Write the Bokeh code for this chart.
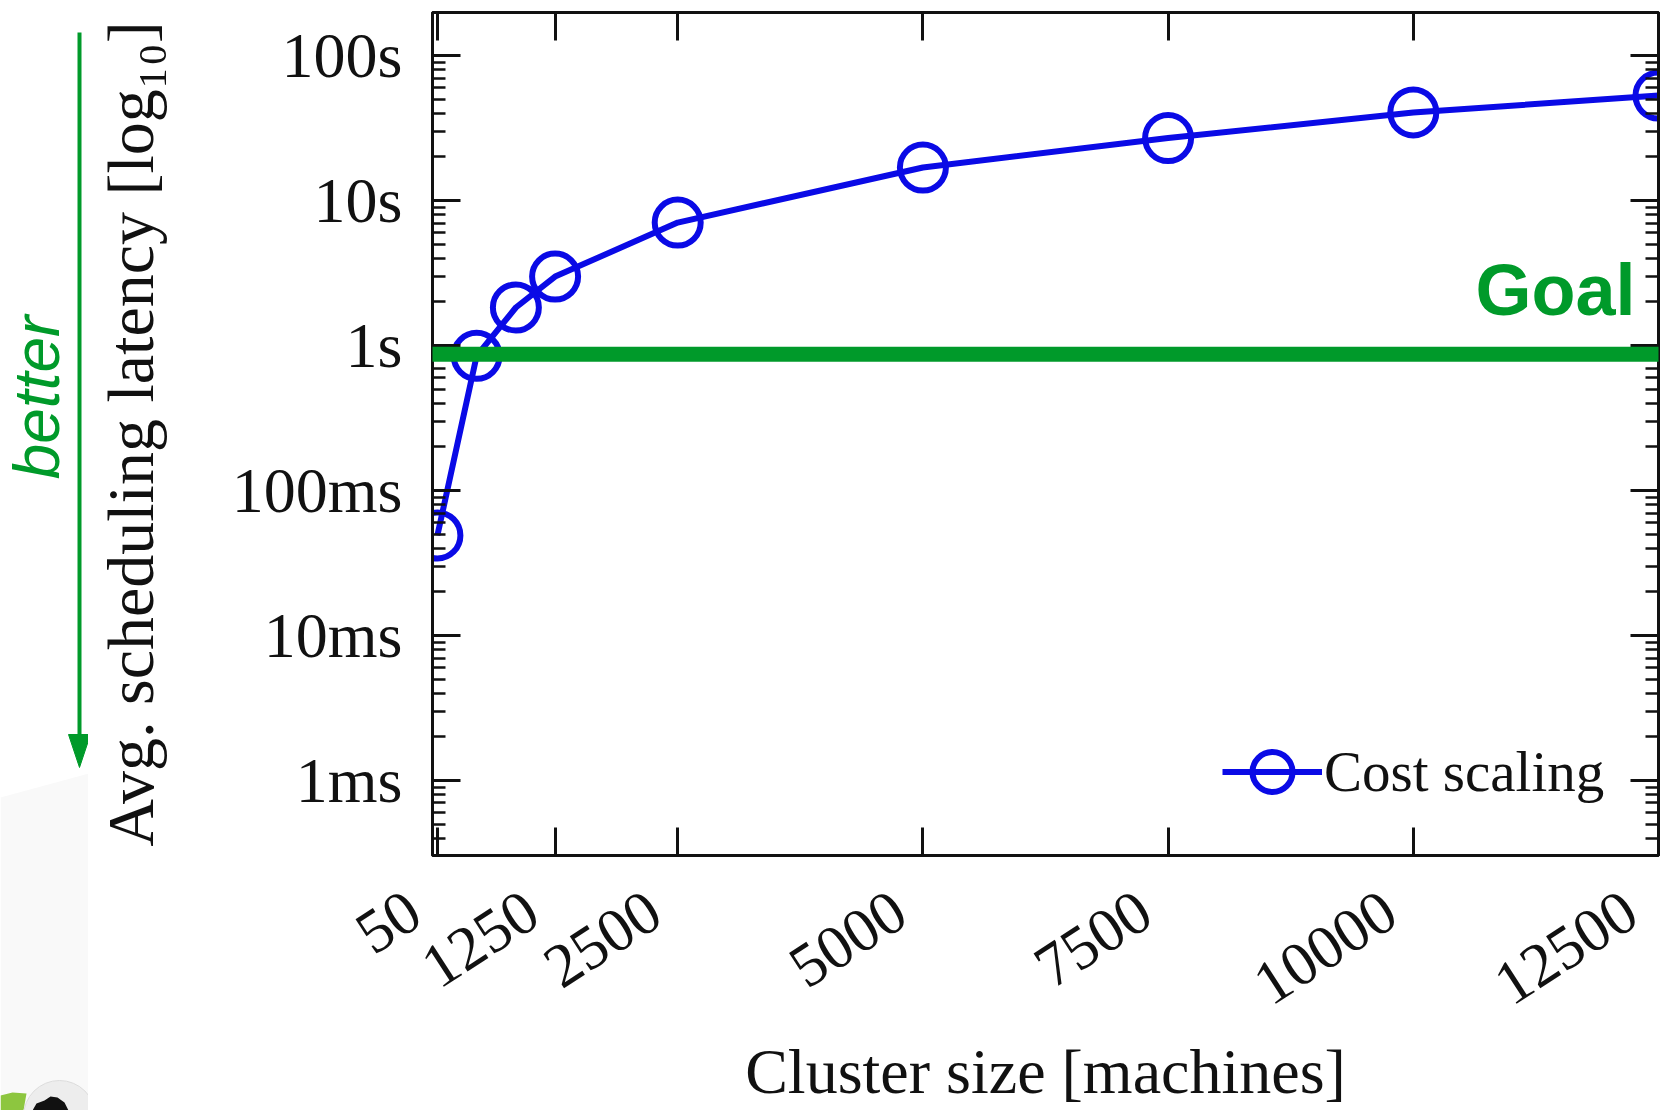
import math
from bokeh.plotting import figure
from bokeh.layouts import row
from bokeh.models import (LinearAxis, LogAxis, FixedTicker, Range1d, LinearScale, BoxAnnotation,
                          Label, Legend, LegendItem, CustomJSTickFormatter)
from bokeh.core.properties import value
from bokeh.embed import file_html
from bokeh.resources import INLINE

# ---------------- data ----------------
cluster_sizes = [50, 450, 850, 1250, 2500, 5000, 7500, 10000, 12500]
latency_s = [0.049, 0.85, 1.83, 2.99, 7.05, 16.9, 27.0, 40.5, 53.0]
series_name = "Cost scaling"
x_ticks = [50, 1250, 2500, 5000, 7500, 10000, 12500]
y_ticks = [0.001, 0.01, 0.1, 1, 10, 100]
y_tick_labels = ["1ms", "10ms", "100ms", "1s", "10s", "100s"]
goal_latency = 0.87
goal_text = "Goal"
better_text = "better"
x_label = "Cluster size [machines]"
y_label = "Avg. scheduling latency [log\u2081\u2080]"

# ---------------- styles ----------------
BLUE = "#0a0ae6"
GREEN = "#009a2a"
INK = "#111111"
SERIF = "Liberation Serif"
SANS = "Liberation Sans"

W, H = 1672, 1110
SIDE_W = 88                               # left decoration strip
FL, FR, FT, FB = 432, 1658, 12, 855       # frame edges in page pixels


def no_frame_align(fig):
    try:
        fig.frame_align = False
    except Exception:
        pass


# ---------------- left strip: "better" arrow and logo ----------------
side = figure(width=SIDE_W, height=H, x_range=Range1d(0, SIDE_W), y_range=Range1d(H, 0),
              x_axis_location=None, y_axis_location=None, min_border=0,
              outline_line_color=None, toolbar_location=None, output_backend="svg",
              background_fill_color="white", border_fill_color="white")
no_frame_align(side)
side.grid.visible = False
side.patch([0, 88, 88, 0], [797, 773, 1110, 1110], fill_color="#f9f9f9", line_color=None)
side.segment(x0=[79], y0=[32], x1=[79], y1=[740], line_color=GREEN, line_width=4)
side.patch([68, 90, 79], [734, 734, 767], fill_color=GREEN, line_color=GREEN)
side.text(x=[36], y=[397], text=[better_text], angle=math.pi / 2,
          text_align="center", text_baseline="middle",
          text_font=value(SANS), text_font_style="italic", text_font_size="64px",
          text_color=GREEN)
side.patch([0, 12, 26, 23, 0], [1095, 1092, 1093, 1110, 1110],
           fill_color="#8dc63f", line_color=None)
side.circle(x=[59], y=[1116], radius=36, fill_color="#ededed", line_color="#dcdcdc")
side.patch([32, 36, 44, 50, 57, 64, 68, 66], [1110, 1103, 1100, 1096, 1097, 1102, 1110, 1112],
           fill_color="#111111", line_color=None)

# ---------------- main chart ----------------
p = figure(frame_width=FR - FL, frame_height=FB - FT,
           x_range=Range1d(0, 12500),
           y_range=Range1d(10 ** -3.517, 10 ** 2.297),
           y_axis_type="log",
           output_backend="svg", toolbar_location=None,
           min_border_left=FL - SIDE_W, min_border_right=W - FR,
           min_border_top=FT, min_border_bottom=H - FB,
           background_fill_color="white", border_fill_color="white")
no_frame_align(p)
p.xgrid.visible = False
p.ygrid.visible = False
p.outline_line_color = INK
p.outline_line_width = 3

p.extra_x_ranges = {"px": Range1d(FL, FR)}
p.extra_y_ranges = {"py": Range1d(FB, FT)}
p.extra_x_scales = {"px": LinearScale()}
p.extra_y_scales = {"py": LinearScale()}

minor = [k * 10.0 ** e for e in range(-4, 3) for k in range(2, 10)]
y_formatter = CustomJSTickFormatter(args=dict(tvals=y_ticks, tlabels=y_tick_labels), code="""
let best = 0, bd = Infinity;
for (let i = 0; i < tvals.length; i++) {
  const d = Math.abs(Math.log10(tick) - Math.log10(tvals[i]));
  if (d < bd) { bd = d; best = i; }
}
return tlabels[best];
""")
# trailing no-break/thin spaces keep the rotated labels slightly left of their ticks
x_formatter = CustomJSTickFormatter(code="return String(Math.round(tick)) + '\\u00A0\\u2009';")
blank_formatter = CustomJSTickFormatter(code="return ' ';")


def style_axis(ax):
    ax.axis_line_width = 3
    ax.axis_line_color = INK
    ax.major_tick_in = 28
    ax.major_tick_out = 0
    ax.minor_tick_in = 13
    ax.minor_tick_out = 0
    ax.major_tick_line_width = 3
    ax.minor_tick_line_width = 2.5
    ax.major_tick_line_color = INK
    ax.minor_tick_line_color = INK
    ax.major_label_text_font = SERIF
    ax.major_label_text_font_size = "64px"
    ax.major_label_text_color = INK
    ax.axis_label_text_font = SERIF
    ax.axis_label_text_font_size = "66px"
    ax.axis_label_text_font_style = "normal"
    ax.axis_label_text_color = INK


def ticks_only(ax):
    ax.formatter = blank_formatter
    ax.major_label_text_font_size = "2px"
    ax.major_label_text_color = None
    ax.major_label_standoff = 0


# bottom axis
xa = p.xaxis[0]
xa.ticker = FixedTicker(ticks=x_ticks)
xa.formatter = x_formatter
style_axis(xa)
xa.major_label_text_font_size = "62px"
xa.major_label_orientation = math.radians(33)
xa.major_label_standoff = 34
xa.axis_label = x_label
xa.axis_label_text_font_size = "64px"
xa.axis_label_standoff = -13

# left axis
ya = p.yaxis[0]
ya.ticker = FixedTicker(ticks=y_ticks, minor_ticks=minor)
ya.formatter = y_formatter
style_axis(ya)
ya.major_label_standoff = 30
ya.axis_label = y_label
ya.axis_label_standoff = 62

# top axis (ticks only)
ta = LinearAxis(ticker=FixedTicker(ticks=x_ticks))
style_axis(ta)
ticks_only(ta)
p.add_layout(ta, "above")

# right axis (ticks only)
ra = LogAxis(ticker=FixedTicker(ticks=y_ticks, minor_ticks=minor))
style_axis(ra)
ticks_only(ra)
p.add_layout(ra, "right")

# data
r_line = p.line(cluster_sizes, latency_s, line_color=BLUE, line_width=6)
r_circ = p.scatter(cluster_sizes, latency_s, marker="circle", size=46,
                   fill_color=None, line_color=BLUE, line_width=6)

legend = Legend(items=[LegendItem(label=series_name, renderers=[r_line, r_circ])],
                location=(790, 31), orientation="vertical",
                glyph_width=100, glyph_height=105, label_standoff=2,
                padding=0, margin=0, spacing=0,
                border_line_color=None, background_fill_alpha=0,
                label_text_font=SERIF, label_text_font_size="57px",
                label_text_color=INK)
p.add_layout(legend)

# goal line and label
p.add_layout(BoxAnnotation(left=FL - 9, right=W + 10, x_range_name="px",
                           top=goal_latency * 1.126, bottom=goal_latency / 1.126,
                           fill_color=GREEN, fill_alpha=1, line_color=None))
p.add_layout(Label(x=1635, y=289, x_range_name="px", y_range_name="py",
                   text=goal_text, text_align="right", text_baseline="alphabetic",
                   text_font=SANS, text_font_style="bold", text_font_size="72px",
                   text_color=GREEN, level="overlay"))

layout = row(side, p, spacing=0)
open("out.html", "w").write(file_html(layout, INLINE))
